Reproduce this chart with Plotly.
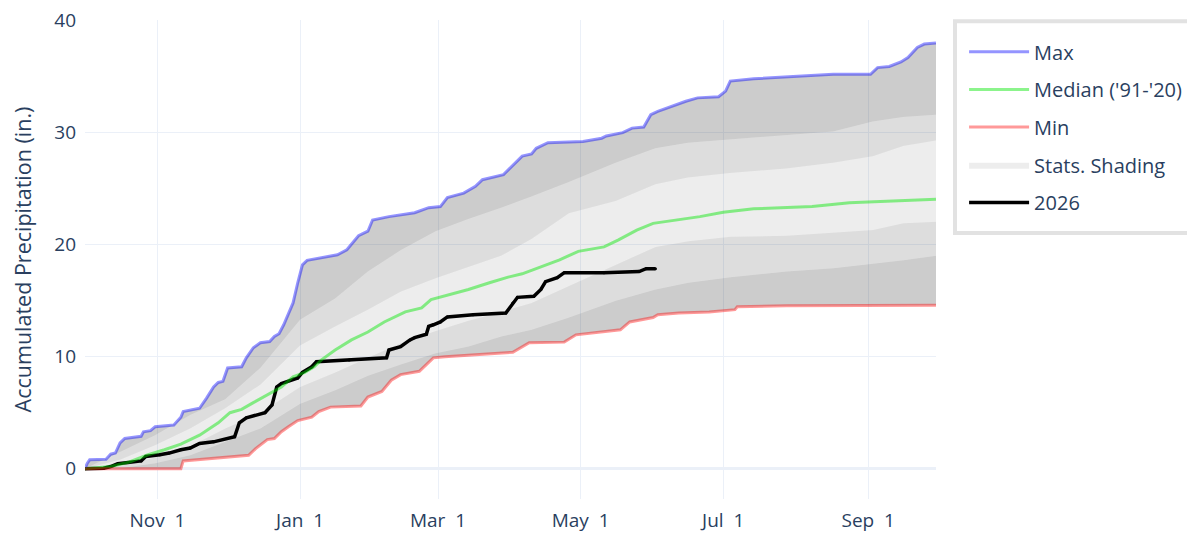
import pandas as pd
import plotly.graph_objects as go

WY_START = "2025-10-01"
X_END = "2026-09-30"

# ---- Data (day of water year, value in inches) ----
max_days = [0, 1, 2, 9, 11, 13, 15, 17, 24, 25, 28, 30, 38, 41, 42, 49, 52, 55, 57, 59, 61, 67, 69, 72, 75, 79, 81, 83, 85, 89, 91, 93, 95, 104, 108, 112, 116, 117, 121, 123, 130, 141, 147, 152, 155, 162, 167, 170, 179, 183, 187, 191, 193, 198, 213, 221, 223, 230, 234, 239, 242, 245, 250, 257, 262, 271, 274, 276, 286, 301, 320, 336, 339, 344, 349, 352, 356, 359, 364]
max_vals = [0, 0.5, 0.8, 0.85, 1.3, 1.4, 2.3, 2.7, 2.9, 3.3, 3.4, 3.75, 3.9, 4.6, 5.1, 5.4, 6.3, 7.3, 7.7, 7.8, 9.0, 9.1, 9.9, 10.8, 11.25, 11.35, 11.8, 12.05, 12.85, 14.8, 16.6, 18.2, 18.6, 18.9, 19.1, 19.55, 20.6, 20.8, 21.2, 22.2, 22.5, 22.85, 23.3, 23.4, 24.2, 24.6, 25.2, 25.8, 26.25, 27.1, 27.9, 28.1, 28.6, 29.1, 29.2, 29.5, 29.7, 30.0, 30.4, 30.5, 31.6, 31.9, 32.3, 32.8, 33.1, 33.2, 33.7, 34.6, 34.8, 35.0, 35.2, 35.2, 35.8, 35.9, 36.3, 36.7, 37.6, 37.9, 38.0]

min_days = [0, 41, 42, 70, 73, 76, 78, 81, 84, 87, 91, 97, 100, 105, 118, 121, 127, 131, 135, 143, 149, 154, 171, 183, 190, 205, 210, 229, 233, 243, 245, 254, 267, 278, 279, 300, 364]
min_vals = [0, 0, 0.7, 1.2, 1.8, 2.3, 2.6, 2.7, 3.3, 3.75, 4.3, 4.6, 5.1, 5.5, 5.6, 6.4, 6.9, 7.9, 8.4, 8.7, 9.9, 10.0, 10.2, 10.4, 11.25, 11.3, 11.95, 12.4, 13.1, 13.5, 13.75, 13.9, 14.0, 14.2, 14.45, 14.55, 14.6]

med_days = [0, 11, 19, 27, 34, 41, 49, 57, 62, 67, 72, 78, 84, 89, 94, 98, 101, 107, 114, 121, 128, 137, 144, 148, 155, 164, 173, 181, 187, 194, 203, 211, 222, 228, 236, 243, 253, 263, 273, 286, 311, 327, 364]
med_vals = [0, 0.2, 0.6, 1.25, 1.7, 2.2, 3.0, 4.1, 5.0, 5.3, 5.9, 6.6, 7.3, 8.2, 8.6, 9.1, 9.7, 10.6, 11.5, 12.2, 13.1, 14.0, 14.35, 15.1, 15.5, 16.0, 16.6, 17.1, 17.4, 17.95, 18.65, 19.4, 19.8, 20.4, 21.3, 21.9, 22.2, 22.5, 22.9, 23.2, 23.4, 23.75, 24.05]

pct_days = [0, 15, 30, 45, 60, 75, 92, 107, 121, 135, 150, 164, 178, 191, 207, 227, 244, 258, 276, 300, 320, 337, 350, 364]
p90_vals = [0, 1.5, 3.0, 4.8, 6.2, 9.0, 13.3, 15.2, 17.6, 19.5, 21.2, 22.3, 23.3, 24.3, 25.6, 27.3, 28.6, 29.1, 29.4, 29.8, 30.1, 31.0, 31.4, 31.6]
p70_vals = [0, 0.8, 2.1, 3.6, 5.4, 7.5, 11.0, 12.7, 14.2, 15.8, 17.0, 18.0, 19.0, 20.5, 22.8, 23.9, 25.4, 26.0, 26.4, 26.8, 27.3, 27.9, 28.8, 29.3]
p30_vals = [0, 0.25, 1.0, 2.0, 3.6, 5.0, 7.3, 8.6, 9.9, 11.2, 12.3, 13.2, 14.0, 14.8, 16.3, 18.2, 19.8, 20.3, 20.7, 20.8, 21.1, 21.3, 21.9, 22.05]
p10_vals = [0, 0.05, 0.5, 1.2, 2.4, 3.6, 5.8, 7.0, 8.3, 9.3, 10.3, 10.9, 11.8, 12.4, 13.5, 15.0, 16.0, 16.6, 17.1, 17.6, 17.9, 18.3, 18.6, 19.0]

cur_days = [0, 8, 11, 14, 24, 26, 32, 36, 41, 45, 49, 55, 64, 66, 69, 77, 80, 82, 84, 89, 91, 93, 97, 99, 113, 129, 130, 135, 139, 141, 146, 147, 149, 152, 155, 166, 180, 183, 185, 192, 195, 197, 202, 205, 222, 237, 240, 244]
cur_vals = [0, 0.05, 0.2, 0.45, 0.7, 1.1, 1.25, 1.4, 1.7, 1.85, 2.25, 2.4, 2.85, 4.1, 4.55, 5.0, 5.7, 7.3, 7.6, 8.0, 8.1, 8.6, 9.1, 9.55, 9.7, 9.9, 10.6, 10.9, 11.5, 11.7, 12.0, 12.7, 12.85, 13.1, 13.55, 13.75, 13.9, 14.8, 15.3, 15.4, 16.0, 16.7, 17.05, 17.5, 17.5, 17.6, 17.85, 17.85]


def to_dates(days):
    return pd.Timestamp(WY_START) + pd.to_timedelta(days, unit="D")


DARK = "rgba(0,0,0,0.2)"
MID = "rgba(0,0,0,0.135)"
LIGHT = "rgba(0,0,0,0.07)"

fig = go.Figure()
px = to_dates(pct_days)

fig.add_trace(go.Scatter(x=to_dates(min_days), y=min_vals, mode="lines", line=dict(width=0),
                         showlegend=False, hoverinfo="skip"))
fig.add_trace(go.Scatter(x=px, y=p10_vals, mode="lines", line=dict(width=0), fill="tonexty",
                         fillcolor=DARK, showlegend=False, hoverinfo="skip"))
fig.add_trace(go.Scatter(x=px, y=p30_vals, mode="lines", line=dict(width=0), fill="tonexty",
                         fillcolor=MID, showlegend=False, hoverinfo="skip"))
fig.add_trace(go.Scatter(x=px, y=p70_vals, mode="lines", line=dict(width=0), fill="tonexty",
                         fillcolor=LIGHT, name="Stats. Shading", legendrank=4, legendgroup="s"))
fig.add_trace(go.Scatter(x=px, y=p90_vals, mode="lines", line=dict(width=0), fill="tonexty",
                         fillcolor=MID, showlegend=False, hoverinfo="skip"))
fig.add_trace(go.Scatter(x=to_dates(max_days), y=max_vals, mode="lines", line=dict(width=0), fill="tonexty",
                         fillcolor=DARK, showlegend=False, hoverinfo="skip"))

fig.add_trace(go.Scatter(x=to_dates(cur_days), y=cur_vals, mode="lines+markers", name="2026",
                         line=dict(color="black", width=3.5), marker=dict(size=3, color="black"),
                         legendrank=5, legendgroup="c"))
fig.add_trace(go.Scatter(x=to_dates(max_days), y=max_vals, mode="lines", name="Max",
                         line=dict(color="rgba(0,0,255,0.42)", width=3), legendrank=1, legendgroup="a"))
fig.add_trace(go.Scatter(x=to_dates(med_days), y=med_vals, mode="lines", name="Median ('91-'20)",
                         line=dict(color="rgba(0,230,0,0.45)", width=3), legendrank=2, legendgroup="m"))
fig.add_trace(go.Scatter(x=to_dates(min_days), y=min_vals, mode="lines", name="Min",
                         line=dict(color="rgba(255,0,0,0.4)", width=3), legendrank=3, legendgroup="n"))

fig.update_layout(
    template="plotly_white",
    width=1195, height=533,
    margin=dict(l=77, r=267, t=12, b=42, autoexpand=False),
    font=dict(family="Open Sans, verdana, arial, sans-serif", size=19, color="#2a3f5f"),
    legend=dict(font=dict(size=20), borderwidth=0, bgcolor="rgba(0,0,0,0)",
                x=1.033, y=0.9745, xanchor="left", yanchor="top",
                itemwidth=60, tracegroupgap=8.7, traceorder="grouped"),
    showlegend=True,
    shapes=[dict(type="rect", xref="paper", yref="paper", x0=1.0223, x1=1.45, y0=0.5553, y1=0.9973,
                 line=dict(color="#E2E2E2", width=4), fillcolor="white", layer="below")],
)
fig.update_xaxes(range=[WY_START, X_END], tickformat="%b %e", dtick="M2", tick0="2025-11-01",
                 showgrid=True, automargin=False, ticklabelstandoff=8, ticklabeloverflow="allow")
fig.update_yaxes(range=[-2.7, 40.05], dtick=10, automargin=False, ticklabelstandoff=8,
                 ticklabeloverflow="allow",
                 title=dict(text="Accumulated Precipitation (in.)", font=dict(size=21.5), standoff=17),
                 zeroline=True, zerolinewidth=3)

fig.write_html("out.html")
